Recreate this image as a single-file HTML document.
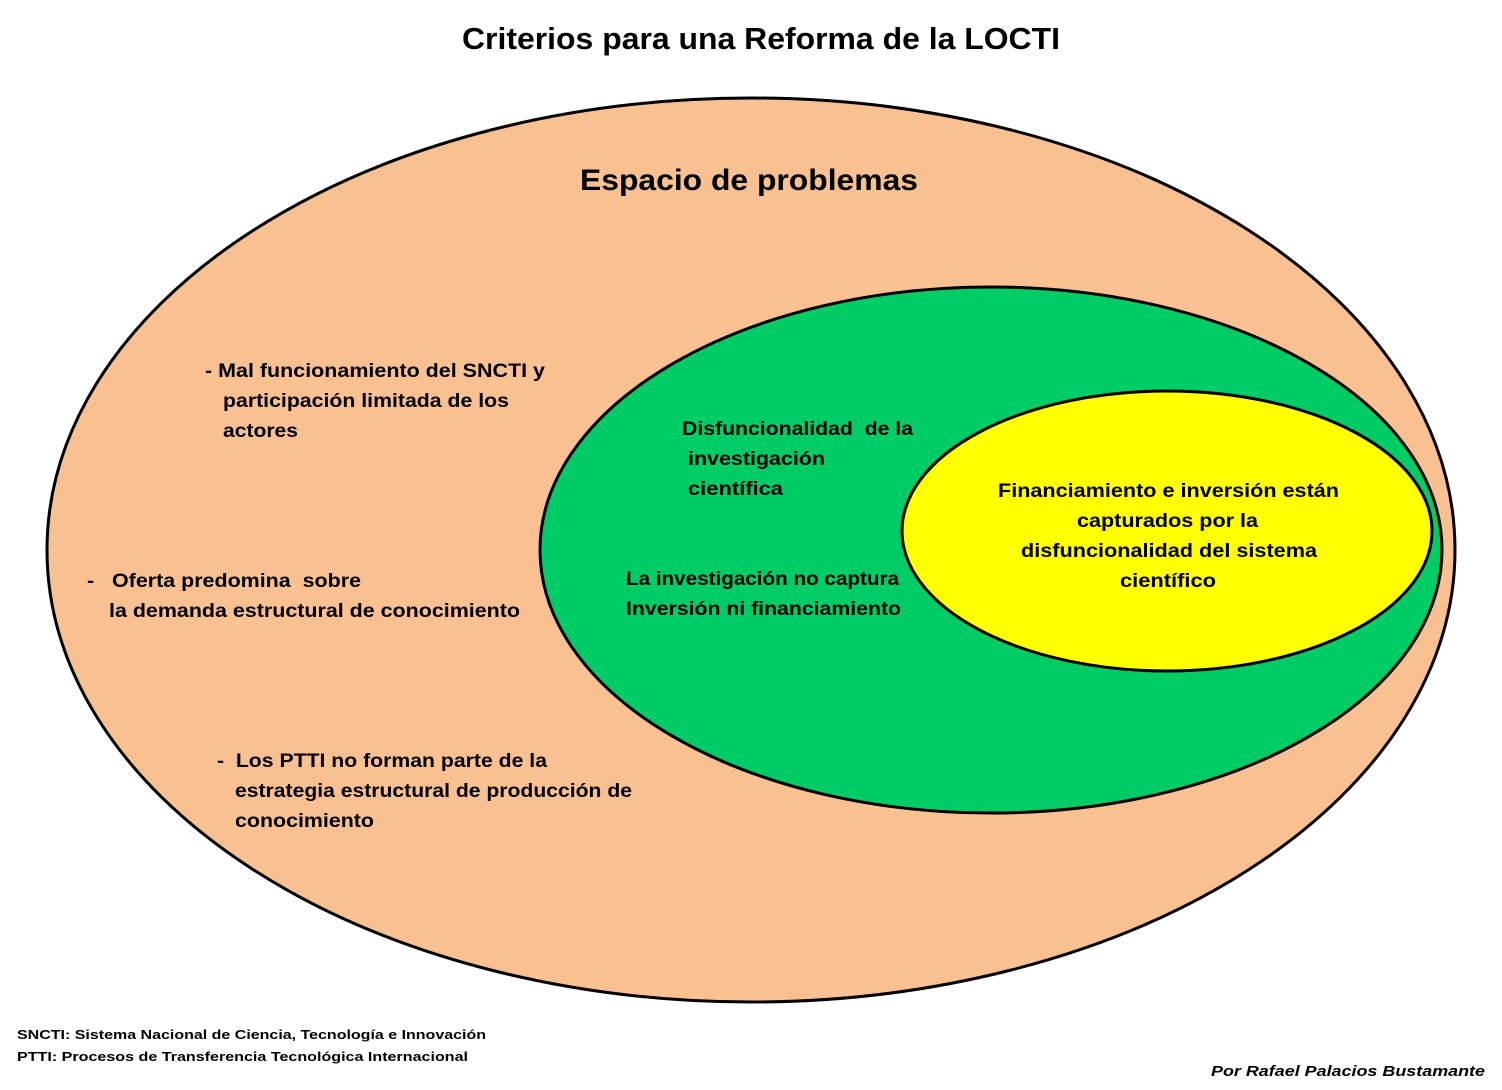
<!DOCTYPE html>
<html><head><meta charset="utf-8"><style>
html,body{margin:0;padding:0;background:#fff;}
svg{display:block;}
text{font-family:"Liberation Sans",sans-serif;font-weight:bold;fill:#000;}
</style></head><body>
<svg width="1502" height="1090" viewBox="0 0 1502 1090" xmlns="http://www.w3.org/2000/svg">
<rect width="1502" height="1090" fill="#fff"/>
<text x="462" y="49" font-size="31" textLength="598" lengthAdjust="spacingAndGlyphs">Criterios para una Reforma de la LOCTI</text>
<ellipse cx="751" cy="550" rx="704" ry="452" fill="#f9c192" stroke="#000" stroke-width="3"/>
<ellipse cx="991" cy="550" rx="451" ry="263" fill="#00cc66" stroke="#000" stroke-width="3"/>
<ellipse cx="1167" cy="531" rx="265" ry="140" fill="#ffff00" stroke="#000" stroke-width="3"/>
<text x="580" y="190" font-size="30" textLength="338" lengthAdjust="spacingAndGlyphs">Espacio de problemas</text>
<g font-size="19">
<text x="205" y="377" textLength="340" lengthAdjust="spacingAndGlyphs">- Mal funcionamiento del SNCTI y</text>
<text x="223" y="407" textLength="286" lengthAdjust="spacingAndGlyphs">participación limitada de los</text>
<text x="223" y="437" textLength="75" lengthAdjust="spacingAndGlyphs">actores</text>
<text x="87" y="587" textLength="274" lengthAdjust="spacingAndGlyphs" xml:space="preserve">-   Oferta predomina  sobre</text>
<text x="109" y="617" textLength="411" lengthAdjust="spacingAndGlyphs">la demanda estructural de conocimiento</text>
<text x="217" y="767" textLength="330" lengthAdjust="spacingAndGlyphs" xml:space="preserve">-  Los PTTI no forman parte de la</text>
<text x="235" y="797" textLength="397" lengthAdjust="spacingAndGlyphs">estrategia estructural de producción de</text>
<text x="235" y="827" textLength="139" lengthAdjust="spacingAndGlyphs">conocimiento</text>
<text x="682" y="435" textLength="231" lengthAdjust="spacingAndGlyphs" xml:space="preserve">Disfuncionalidad  de la</text>
<text x="688" y="465" textLength="137" lengthAdjust="spacingAndGlyphs">investigación</text>
<text x="688" y="495" textLength="95" lengthAdjust="spacingAndGlyphs">científica</text>
<text x="626" y="585" textLength="273" lengthAdjust="spacingAndGlyphs">La investigación no captura</text>
<text x="626" y="615" textLength="275" lengthAdjust="spacingAndGlyphs">Inversión ni financiamiento</text>
<text x="998" y="497" textLength="341" lengthAdjust="spacingAndGlyphs">Financiamiento e inversión están</text>
<text x="1077" y="527" textLength="181" lengthAdjust="spacingAndGlyphs">capturados por la</text>
<text x="1021" y="557" textLength="296" lengthAdjust="spacingAndGlyphs">disfuncionalidad del sistema</text>
<text x="1120" y="587" textLength="96" lengthAdjust="spacingAndGlyphs">científico</text>
</g>
<g font-size="13">
<text x="17" y="1039" textLength="469" lengthAdjust="spacingAndGlyphs">SNCTI: Sistema Nacional de Ciencia, Tecnología e Innovación</text>
<text x="17" y="1061" textLength="451" lengthAdjust="spacingAndGlyphs">PTTI: Procesos de Transferencia Tecnológica Internacional</text>
<text x="1211" y="1076" font-size="15" font-style="italic" textLength="274" lengthAdjust="spacingAndGlyphs">Por Rafael Palacios Bustamante</text>
</g>
</svg>
</body></html>
